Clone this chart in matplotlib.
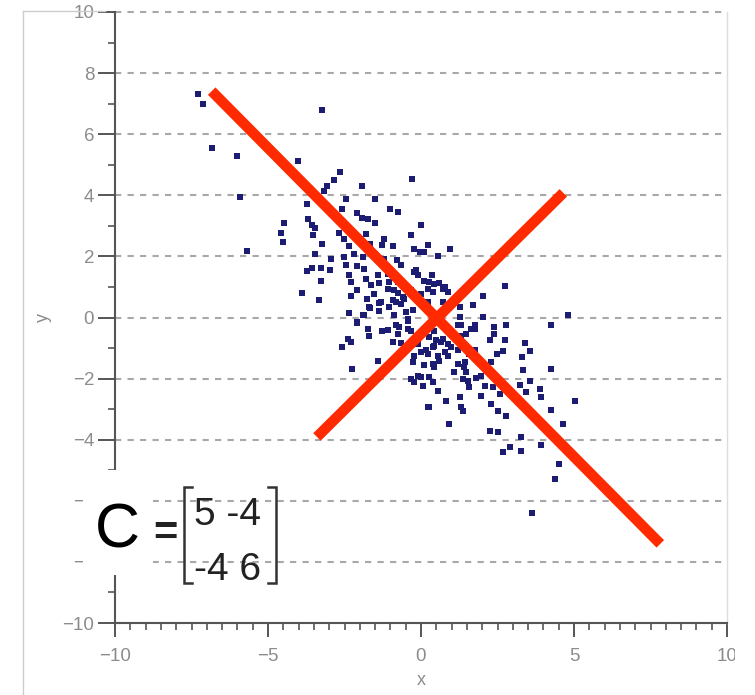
import matplotlib
matplotlib.use("Agg")
import matplotlib.pyplot as plt
from matplotlib.lines import Line2D
from matplotlib.patches import Rectangle
import numpy as np

plt.rcParams['font.family'] = ['Liberation Sans', 'DejaVu Sans']

# ---- data ----
x_vals = [
    -7.30, -7.14, -3.22, -6.83, -6.01, -4.01, -2.64, -2.84, -5.90, -4.48, -4.59, -4.50, -5.68,
    -3.06, -0.30, -1.93, -3.17, -2.46, -1.51, -3.72, -2.57, -2.08, -1.01, -0.74, -3.68, -1.93,
    -1.73, -3.55, -3.48, -1.50, 0.00, -3.52, -2.68, -1.80, -1.20, -0.33, -3.22, -2.53, -2.35,
    -1.66, -1.26, -0.93, -0.24, -0.02, 0.11, -3.47, -2.95, -2.51, -2.19, -1.91, -1.51, -1.20,
    -0.80, -0.66, -2.46, -2.08, -1.86, -3.55, -3.26, -2.97, -3.74, -2.35, -1.42, -1.09, -0.16,
    -0.11, -3.28, -2.30, -1.80, -1.64, -1.37, -1.09, -0.76, 0.11, 0.22, -2.08, -3.90, -2.30,
    -1.53, -0.76, -0.55, -3.33, -1.75, -0.93,
    0.96, 0.55, 0.22, -0.22, 0.77, -1.04, -0.87, -0.60, -0.33, 0.00, 0.22, 1.26, -1.31, -1.70,
    -2.08, -1.91, -0.44, -0.71, -0.33, 0.44, 0.66, 0.44, 0.88, 1.20, 1.31, 1.64, 1.75, 1.42,
    1.20, 0.44, 0.00,
    0.36, 0.27, 0.44, 0.60, 0.71, 0.88, 0.38, 2.76, 2.02, 0.71, 1.69,
    2.04, 1.78, 1.75, 1.31, 4.81, 4.24, 2.79, 2.40, 2.40, 1.48, 2.24, 2.73, 3.39, 3.57, 2.68,
    2.48, 0.38, 0.16, 0.88, 1.20, 0.60, 0.38, 1.58, 1.45, 1.91, 2.30, 3.31, 3.33, 4.26, 1.09,
    1.48, 1.37, 1.53, 1.80, 1.97, 1.58, 0.38, 0.55, 2.08, 2.35, 2.68, 3.25, 3.55, 3.44, 3.88,
    3.93, 5.03, 2.57, 1.97, 1.26, 0.82, 0.27, 1.31, 1.37, 2.30, 2.51, 2.79, 4.24, 0.91, 2.24,
    2.51, 3.28, 4.65,
    0.27, 0.49, 0.71, 0.98, 0.55, 0.77, 1.37, 1.26, 1.26,
    2.68, 2.90, 3.28, 3.91, 4.51, 4.39, 3.63,
    -1.66, -1.37, -1.04, -0.82, -0.66, -2.35, -1.86, -1.37, -0.87, -0.49, -0.27, -2.08, -1.73,
    -1.26, -1.09, -0.82, -0.44, -0.76, -1.70, -0.44, -2.40, -2.30, -2.57, -0.93, -0.66, -0.11,
    0.00, -0.22, 0.22, -1.39, -0.27, 0.11, -2.26, -0.33, -0.22, -0.11, 0.06, 0.27, 0.22,
]
y_vals = [
    7.33, 6.98, 6.79, 5.55, 5.29, 5.11, 4.75, 4.51, 3.94, 3.09, 2.75, 2.46, 2.18,
    4.30, 4.52, 4.30, 4.13, 3.89, 3.87, 3.73, 3.54, 3.43, 3.54, 3.45, 3.24, 3.26,
    3.24, 3.02, 2.93, 3.09, 3.02, 2.69, 2.78, 2.74, 2.58, 2.69, 2.42, 2.58, 2.34,
    2.42, 2.36, 2.33, 2.23, 2.16, 2.14, 2.07, 1.92, 1.98, 2.07, 1.98, 2.09, 1.92,
    1.87, 1.73, 1.73, 1.70, 1.60, 1.62, 1.62, 1.57, 1.51, 1.38, 1.38, 1.43, 1.54,
    1.38, 1.21, 1.16, 1.25, 1.05, 1.14, 0.94, 1.16, 1.18, 0.94, 0.89, 0.81, 0.70,
    0.78, 0.81, 0.61, 0.56, 0.61, 0.56,
    2.25, 2.00, 2.38, 1.49, 0.99, 1.16, 0.89, 0.67, 0.89, 0.78, 0.50, 0.34, 0.50, 0.34,
    -0.15, 0.07, -0.04, -0.32, -0.43, -0.43, -0.81, -0.92, -0.86, -0.26, -0.59, -0.37, -1.08, -1.63,
    -1.52, -1.63, -1.96,
    1.38, 1.16, 1.10, 1.14, 0.94, 0.83, 0.83, 1.03, 0.70, 0.52, 0.42,
    0.03, -0.26, -0.37, -0.26, 0.07, -0.26, -0.26, -0.32, -0.53, -0.53, -0.73, -0.75, -0.84, -1.10, -1.10,
    -1.21, -0.97, -1.08, -1.25, -1.08, -1.41, -1.52, -1.19, -1.46, -1.46, -1.46, -1.28, -1.72, -1.68, -1.79,
    -1.79, -2.01, -2.07, -1.98, -1.93, -2.26, -2.12, -2.42, -2.23, -2.28, -2.28, -2.20, -2.07, -2.45, -2.34,
    -2.61, -2.72, -2.50, -2.56, -2.61, -2.72, -2.94, -2.94, -3.05, -2.83, -3.05, -3.21, -3.03, -3.47, -3.70,
    -3.76, -3.92, -3.49,
    -0.64, -0.75, -0.70, -0.97, -1.25, -1.14, -0.97, -0.75, 0.01,
    -4.39, -4.25, -4.36, -4.17, -4.80, -5.29, -6.40,
    0.32, 0.47, 0.36, 0.50, 0.43, 0.14, 0.07, 0.21, 0.07, 0.17, 0.23, -0.19, -0.37,
    -0.43, -0.40, -0.26, -0.10, -0.53, -0.59, -0.37, -0.70, -0.81, -0.97, -0.81, -0.84, -0.86,
    -1.14, -1.25, -1.19, -1.41, -1.46, -1.57, -1.68, -2.01, -2.12, -1.90, -2.23, -1.96, -2.94,
]

# principal axes (red cross), endpoints in data units
axis1_x = [-6.84, 7.82]
axis1_y = [7.41, -7.41]
axis2_x = [-3.40, 4.65]
axis2_y = [-3.91, 4.08]

x_ticks = [-10, -5, 0, 5, 10]
y_ticks = [-10, -8, -6, -4, -2, 0, 2, 4, 6, 8, 10]

# ---- figure ----
W, H = 755, 695
fig = plt.figure(figsize=(W / 100, H / 100), dpi=100)
ax = fig.add_axes([115 / W, 1 - 623 / H, (727 - 115) / W, (623 - 12) / H])
ax.set_xlim(-10, 10)
ax.set_ylim(-10, 10)

tick_c = '#555555'
lab_c = '#8c8c8c'
ax.set_xticks(x_ticks)
ax.set_yticks(y_ticks)
ax.set_xticks(np.arange(-10, 10.01, 0.5), minor=True)
ax.set_yticks(np.arange(-9, 10, 2), minor=True)
ax.tick_params(axis='both', which='major', color=tick_c, width=1.4,
               labelsize=13.5, labelcolor=lab_c)
ax.tick_params(axis='y', which='major', length=12, pad=3)
ax.tick_params(axis='y', which='minor', length=5, width=1.2, color=tick_c)
ax.tick_params(axis='x', which='major', length=10, pad=8)
ax.tick_params(axis='x', which='minor', length=5, width=1.2, color=tick_c)

for s in ['left', 'bottom']:
    ax.spines[s].set_color(tick_c)
    ax.spines[s].set_linewidth(1.5)
ax.spines['top'].set_visible(False)
ax.spines['right'].set_color('#dddddd')
ax.spines['right'].set_linewidth(1.0)

ax.yaxis.grid(True, linestyle=(0, (3, 3)), color='#a8a8a8', linewidth=1.5)
for gl in ax.get_ygridlines():
    gl.set_clip_on(False)
ax.set_axisbelow(True)

ax.set_xlabel('x', fontsize=13, color=lab_c)
ax.set_ylabel('y', fontsize=13, color=lab_c)
ax.xaxis.set_label_coords(0.5, (623 - 672) / 611)
ax.yaxis.set_label_coords((52 - 115) / 612, 0.5)

ax.scatter(x_vals, y_vals, s=15, marker='s', color='#1c1c72', linewidths=0, zorder=2)

ax.plot(axis1_x, axis1_y, color='#ff2a00', linewidth=7.6, solid_capstyle='butt', zorder=3)
ax.plot(axis2_x, axis2_y, color='#ff2a00', linewidth=7.6, solid_capstyle='butt', zorder=3)


def fx(px):
    return px / W


def fy(py):
    return 1 - py / H


# outer light frame
fig.add_artist(Line2D([fx(22.5), fx(22.5)], [fy(10.5), fy(695)], color='#cccccc', lw=1.0))
fig.add_artist(Line2D([fx(22.5), fx(105)], [fy(10.5), fy(10.5)], color='#cccccc', lw=1.0))

# white strip on right edge (image cut)
fig.add_artist(Rectangle((fx(735), 0), fx(W) - fx(735), 1, transform=fig.transFigure,
                         facecolor='white', edgecolor='none', zorder=5))

# white box behind "C"
fig.add_artist(Rectangle((fx(83), fy(575)), fx(153) - fx(83), fy(470) - fy(575),
                         transform=fig.transFigure, facecolor='white', edgecolor='none', zorder=5))

fig.text(fx(117.5), fy(548), 'C', fontsize=45, ha='center', va='baseline', color='black', zorder=6)
fig.text(fx(165.5), fy(545), '=', fontsize=30, ha='center', va='baseline', color='#222222',
         fontweight='bold', zorder=6)
fig.text(fx(194), fy(525), '5 -4', fontsize=28, ha='left', va='baseline', color='#222222', zorder=6)
fig.text(fx(194), fy(580), '-4 6', fontsize=28, ha='left', va='baseline', color='#222222', zorder=6)

# brackets
bk = dict(color='#333333', lw=1.8, solid_joinstyle='miter', zorder=6)
fig.add_artist(Line2D([fx(192), fx(184), fx(184), fx(192)],
                      [fy(487), fy(487), fy(583), fy(583)], **bk))
fig.add_artist(Line2D([fx(268), fx(276), fx(276), fx(268)],
                      [fy(487), fy(487), fy(583), fy(583)], **bk))

fig.savefig('out.png', dpi=100, facecolor='white')
